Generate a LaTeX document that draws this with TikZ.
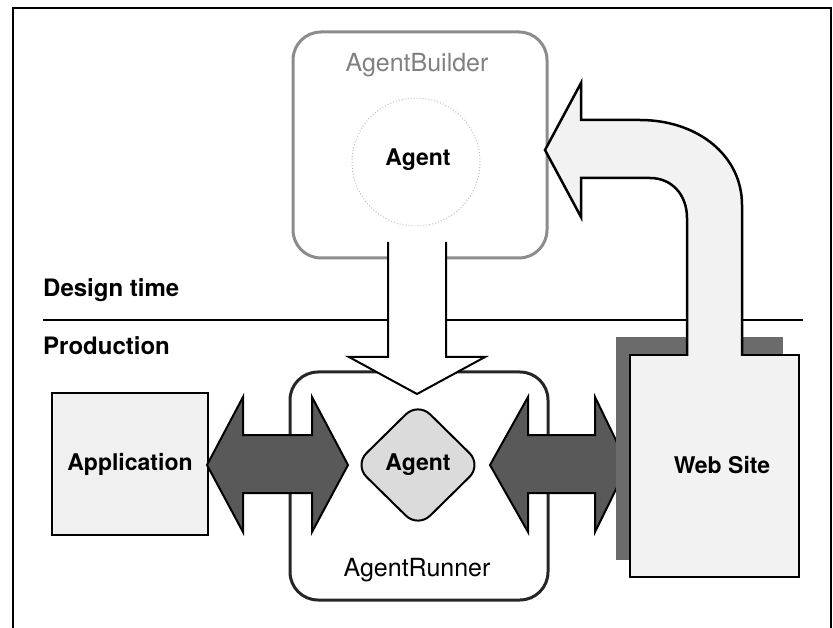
\documentclass[tikz,border=0pt]{standalone}
\usepackage{fontspec}
\setmainfont{TeX Gyre Heros}
\usetikzlibrary{shapes.geometric}
\begin{document}
\begin{tikzpicture}[x=1pt,y=-1pt,
  bold/.style={font=\bfseries\fontsize{23}{23}\selectfont},
  plain/.style={font=\fontsize{25}{25}\selectfont},
  frameline/.style={line width=2.8pt, draw=black},
  darrow/.style={fill=black!65, draw=black, line width=2pt, line join=miter},
  lightfill/.style={fill=black!5}]
\useasboundingbox (0,0) rectangle (833,628);
% outer frame
\draw[frameline] (13,628) -- (13,8) -- (831,8) -- (831,628);
% separator
\coordinate (sepL) at (43,320);
\coordinate (sepR) at (803,320);
\draw[frameline] (sepL) -- (sepR);
\node[anchor=west, font=\bfseries\fontsize{24}{24}\selectfont, inner sep=0] (design) at (43,290) {Design time};
\node[anchor=west, font=\bfseries\fontsize{24}{24}\selectfont, inner sep=0] (prod) at (43,346) {Production};
% AgentBuilder
\node[draw=black!45, line width=3pt, rounded corners=28pt, minimum width=254pt, minimum height=226pt, inner sep=0] (builder) at (420,145) {};
\node[plain, text=black!50, inner sep=0] (buildertxt) at (417,65) {AgentBuilder};
\draw[black!25, line width=1pt, dotted] (416,162) circle (64pt);
\node[bold, inner sep=0] (bagent) at (418,160) {Agent};
% AgentRunner box
\node[draw=black!85, line width=3pt, rounded corners=28pt, minimum width=258pt, minimum height=228pt, inner sep=0] (runner) at (419,486) {};
\node[plain, inner sep=0] (runnertxt) at (417,570) {AgentRunner};
% down arrow from builder to runner
\path[fill=white] (388,242) -- (388,357) -- (349,357) -- (417,394) -- (485,357) -- (446,357) -- (446,242) -- cycle;
\draw[line width=2pt, line join=miter] (388,242) -- (388,357) -- (349,357) -- (417,394) -- (485,357) -- (446,357) -- (446,242);
% Application
\node[draw=black, line width=1.5pt, fill=black!6, minimum width=156pt, minimum height=142pt, inner sep=0] (app) at (130,464) {};
\node[bold, inner sep=0] (apptxt) at (130,464) {Application};
% agent diamond
\node[diamond, draw=black, line width=2pt, fill=black!14, rounded corners=17pt, minimum width=128pt, minimum height=126pt, inner sep=0] (agent) at (418,465) {};
\node[bold, inner sep=0] (agenttxt) at (418,465) {Agent};
% double arrows
\draw[darrow] (207,465) -- (243,397) -- (243,435) -- (312,435) -- (312,397) -- (348,465) -- (312,532) -- (312,493) -- (243,493) -- (243,532) -- cycle;
\draw[darrow] (490,465) -- (528,397) -- (528,435) -- (595,435) -- (595,397) -- (628,465) -- (595,532) -- (595,493) -- (528,493) -- (528,532) -- cycle;
% Web site with shadow
\fill[black!58] (616,337) rectangle (783,560);
\node[draw=black, line width=2.5pt, lightfill, minimum width=169pt, minimum height=222pt, inner sep=0] (web) at (714.5,466) {};
\node[bold, inner sep=0] (webtxt) at (722,465) {Web Site};
% curved arrow from web site back to builder
\path[lightfill] (687,357) -- (687,218) .. controls (687,195) and (672,178) .. (650,178) -- (581,178) -- (581,217) -- (545,150) -- (581,83) -- (581,120) -- (640,120) .. controls (697,120) and (742,155) .. (742,205) -- (742,357) -- cycle;
\draw[line width=2.5pt, line join=miter] (687,356) -- (687,218) .. controls (687,195) and (672,178) .. (650,178) -- (581,178) -- (581,217) -- (545,150) -- (581,83) -- (581,120) -- (640,120) .. controls (697,120) and (742,155) .. (742,205) -- (742,356);
\end{tikzpicture}
\end{document}
